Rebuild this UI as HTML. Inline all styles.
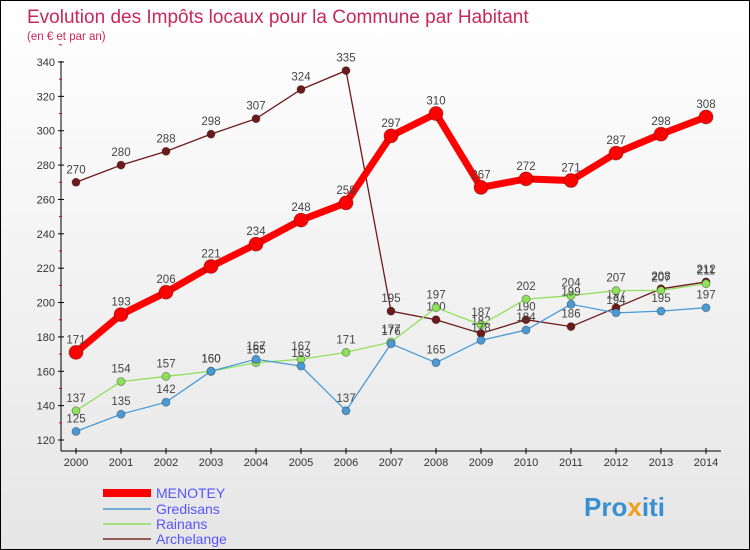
<!DOCTYPE html>
<html><head><meta charset="utf-8"><style>
body{margin:0;}
#wrap{width:750px;height:550px;position:relative;background:linear-gradient(#fff,#e6e6e6);box-sizing:border-box;border:1px solid #000;overflow:hidden;font-family:"Liberation Sans",sans-serif;}
</style></head><body>
<div id="wrap">
<svg id="c" width="750" height="550" style="position:absolute;left:0;top:0">
<text x="26" y="22" font-size="19" fill="#c8285a">Evolution des Impôts locaux pour la Commune par Habitant</text>
<text x="26" y="39" font-size="11.5" fill="#c8285a">(en € et par an)</text>
<g id="axes"></g><g id="series"></g>
<g font-size="14">
<line x1="102" y1="492" x2="150" y2="492" stroke="#f00" stroke-width="8"/>
<text x="155" y="497" fill="#55f">MENOTEY</text>
<line x1="102" y1="508" x2="150" y2="508" stroke="#4a9ad6" stroke-width="1.5"/>
<text x="155" y="513" fill="#55f">Gredisans</text>
<line x1="102" y1="523" x2="150" y2="523" stroke="#8fe05a" stroke-width="1.5"/>
<text x="155" y="528" fill="#55f">Rainans</text>
<line x1="102" y1="538" x2="150" y2="538" stroke="#7a2a2a" stroke-width="1.5"/>
<text x="155" y="543" fill="#55f">Archelange</text>
</g>
<text x="583" y="515" font-size="26" font-weight="bold" fill="#3a8fd0">Pro<tspan fill="#f0a020">x</tspan>iti</text>
</svg>
</div>
<script>
const years=[2000,2001,2002,2003,2004,2005,2006,2007,2008,2009,2010,2011,2012,2013,2014];
const yTicks=[120,140,160,180,200,220,240,260,280,300,320,340];
const menotey=[171,193,206,221,234,248,258,297,310,267,272,271,287,298,308];
const gredisans=[125,135,142,160,167,163,137,176,165,178,184,199,194,195,197];
const rainans=[137,154,157,160,165,167,171,177,197,187,202,204,207,207,211];
const archelange=[270,280,288,298,307,324,335,195,190,182,190,186,197,208,212];
const NS="http://www.w3.org/2000/svg";
const X=i=>75+i*45, Y=v=>439-(v-120)*378/220;
function mk(t,a,p){const e=document.createElementNS(NS,t);for(const k in a)e.setAttribute(k,a[k]);p.appendChild(e);return e;}
const ax=document.getElementById('axes');
const yl=mk('line',{x1:60,y1:60,x2:60,y2:450,stroke:'#000'},ax);


const xl=mk('line',{x1:60,y1:450,x2:720,y2:450,stroke:'#000'},ax);


yTicks.forEach(v=>{
 mk('line',{x1:57,y1:Y(v),x2:63,y2:Y(v),stroke:'#000'},ax);
 mk('line',{x1:58,y1:Y(v+10),x2:61,y2:Y(v+10),stroke:'#e00'},ax);
 const t=mk('text',{x:54,y:Y(v)+4,'font-size':11,'text-anchor':'end',fill:'#333'},ax);t.textContent=v;
 
 
});
years.forEach((y,i)=>{
 mk('line',{x1:X(i),y1:447,x2:X(i),y2:453,stroke:'#000'},ax);
 const t=mk('text',{x:X(i),y:465,'font-size':11,'text-anchor':'middle',fill:'#333'},ax);t.textContent=y;
 
 
});
const sg=document.getElementById('series');
function draw(name,vals,col,w,r){
 const g=mk('g',{},sg);
 
 
 const pl=mk('polyline',{points:vals.map((v,i)=>X(i)+','+Y(v)).join(' '),fill:'none',stroke:col,'stroke-width':w},g);
 
 
 vals.forEach((v,i)=>{
  const c=mk('circle',{cx:X(i),cy:Y(v),r:r,fill:col,stroke:'rgba(0,0,0,0.3)'},g);
  
  
  const t=mk('text',{x:X(i),y:Y(v)-9,'font-size':11.5,'text-anchor':'middle',fill:'#444'},g);t.textContent=v;
  
  
 });
}
draw('archelange',archelange,'#6e1a1a',1.3,4);
draw('rainans',rainans,'#8fe05a',1.3,4);
draw('gredisans',gredisans,'#4a9ad6',1.3,4);
draw('menotey',menotey,'#f00',7,7);
</script>
</body></html>
